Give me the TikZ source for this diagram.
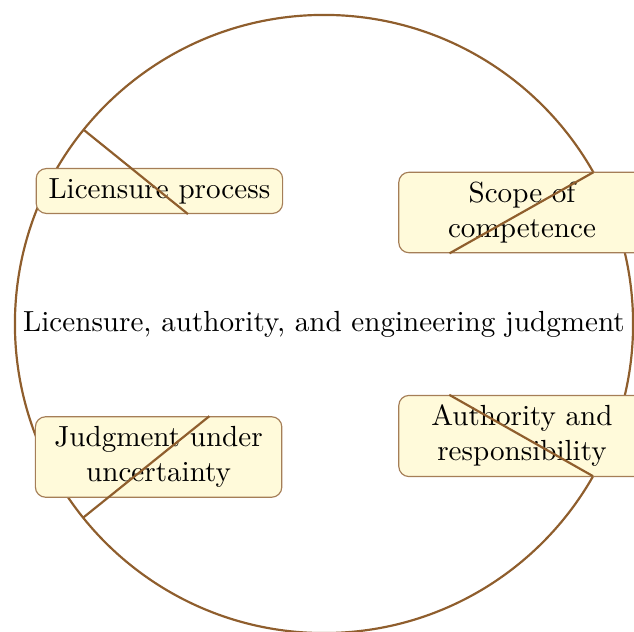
\documentclass[tikz,border=0pt]{standalone}
\usetikzlibrary{calc}
\definecolor{brline}{RGB}{143,94,45}
\definecolor{boxfill}{RGB}{255,250,218}
\tikzset{
  hub/.style={draw=brline, line width=0.75pt, circle, minimum size=212.4pt, inner sep=0pt},
  topicbox/.style={draw=brline!80, line width=0.4pt, fill=boxfill, rounded corners=3.5pt,
     text width=78pt, align=center, font=\normalsize},
  spoke/.style={draw=brline, line width=0.75pt}
}
\begin{document}
\begin{tikzpicture}[x=0.3436pt, y=-0.3436pt]
\useasboundingbox (0,0) rectangle (634,632);
\node[hub] (C) at (324,324) {Licensure, authority, and engineering judgment};
\node[topicbox] (L) at (159.4,191) {Licensure process};
\node[topicbox] (S) at (522,212.5) {Scope of competence};
\node[topicbox] (A) at (522,436) {Authority and responsibility};
\node[topicbox] (J) at (158.6,457) {Judgment under uncertainty};
\foreach \n in {L,S,A,J}{
  \path (C.center) -- (\n) coordinate[pos=1] (\n end);
  \coordinate (\n rim) at ($(C.center)!106.2pt!(\n.center)$);
  \draw[spoke] (\n rim) -- (\n end);
}
\end{tikzpicture}
\end{document}
